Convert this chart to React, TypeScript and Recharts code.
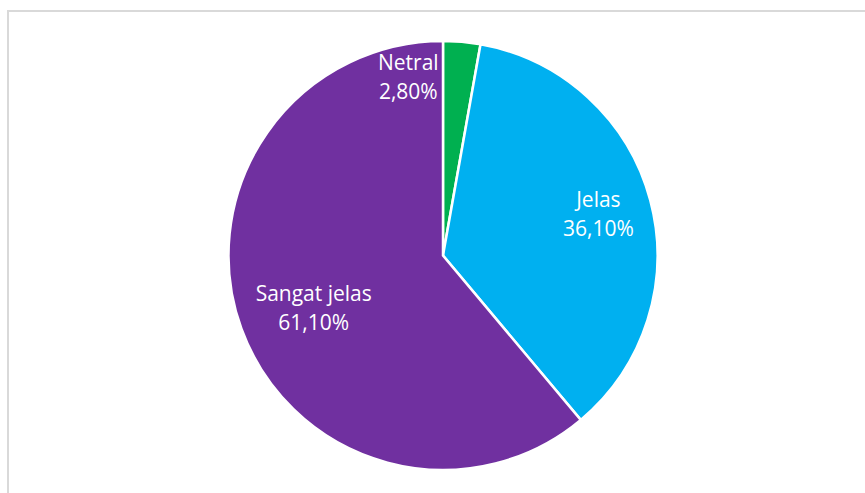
import React from 'react';
import { PieChart, Pie, Cell } from 'recharts';

const categories = ['Netral', 'Jelas', 'Sangat jelas'];
const values = [2.8, 36.1, 61.1];
const colors = ['#00B050', '#00B0F0', '#7030A0'];
// label placement per slice: fraction of radius and angle shift (deg)
const labelRadius = [0.85, 0.75, 0.65];
const labelShift = [16, 0, 2];

const RADIAN = Math.PI / 180;

const formatPct = (v: number) => v.toFixed(2).replace('.', ',') + '%';

const renderLabel = (props: any) => {
  const { cx, cy, midAngle, outerRadius, index } = props;
  const r = outerRadius * labelRadius[index];
  const a = (midAngle + labelShift[index]) * RADIAN;
  const x = cx + r * Math.cos(a);
  const y = cy - r * Math.sin(a);
  return (
    <text
      x={x}
      y={y}
      textAnchor="middle"
      fill="#FFFFFF"
      fontFamily="'Open Sans', sans-serif"
      fontSize={21}
    >
      <tspan x={x} dy={-7}>{categories[index]}</tspan>
      <tspan x={x} dy={29}>{formatPct(values[index])}</tspan>
    </text>
  );
};

const App: React.FC = () => {
  const chartData = categories.map((name, i) => ({ name, value: values[i] }));

  return (
    <div style={{ position: 'fixed', left: 0, top: 0, width: 865, height: 493, overflow: 'hidden', background: '#fff' }}>
      <div
        style={{
          position: 'absolute',
          left: 7,
          top: 10,
          width: 900,
          height: 520,
          border: '2px solid #D9D9D9',
          boxSizing: 'border-box',
        }}
      />
      <div style={{ position: 'absolute', left: 0, top: 0 }}>
        <PieChart width={865} height={493}>
          <Pie
            data={chartData}
            dataKey="value"
            nameKey="name"
            cx={438}
            cy={250.5}
            outerRadius={214.5}
            startAngle={90}
            endAngle={-270}
            stroke="#FFFFFF"
            strokeWidth={2.5}
            label={renderLabel}
            labelLine={false}
            isAnimationActive={false}
          >
            {chartData.map((entry, index) => (
              <Cell key={entry.name} fill={colors[index]} />
            ))}
          </Pie>
        </PieChart>
      </div>
    </div>
  );
};

export default App;
